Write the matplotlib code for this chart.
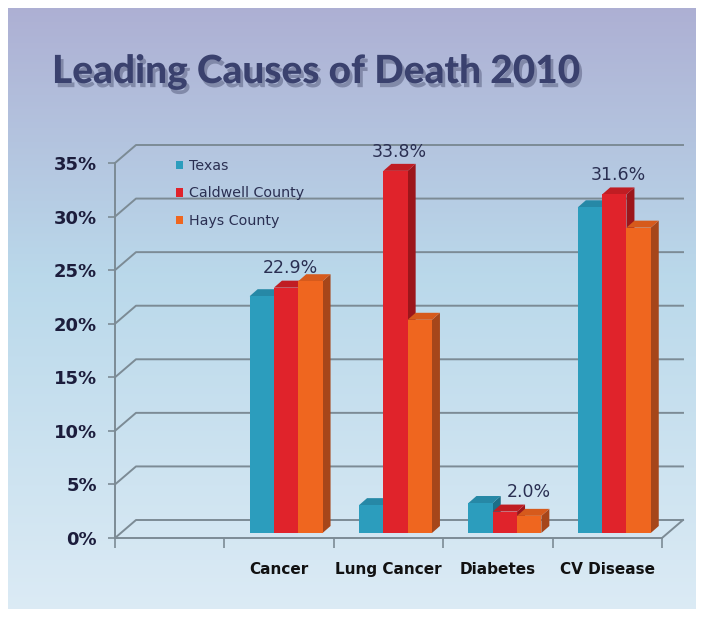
import numpy as np
import matplotlib.pyplot as plt
from matplotlib.patches import Rectangle, Polygon, Patch
import matplotlib.patheffects as pe

# ─────── Data ───────
categories = ["", "Cancer", "Lung Cancer", "Diabetes", "CV Disease"]
series_names = ["Texas", "Caldwell County", "Hays County"]
texas = [np.nan, 22.1, 2.6, 2.8, 30.4]
caldwell = [np.nan, 22.9, 33.8, 2.0, 31.6]
hays = [np.nan, 23.5, 19.9, 1.6, 28.5]
y_ticks = [0, 5, 10, 15, 20, 25, 30, 35]
labelled = "Caldwell County"

# ─────── Style ───────
W, H = 704, 617
front_cols = ["#2c9dbd", "#e0232b", "#ef661f"]
side_cols = ["#1d6f88", "#9c161b", "#a6461a"]
top_cols = ["#2688a6", "#c01d23", "#d65a1c"]
grid_col = "#7c8b95"
text_dark = "#1c1d3c"

fig = plt.figure(figsize=(W / 100, H / 100), dpi=100)

# background gradient inside a white border
bg = fig.add_axes([8 / W, 8 / H, 1 - 16 / W, 1 - 16 / H])
top_rgb = np.array([0.68, 0.69, 0.83])
mid_rgb = np.array([0.73, 0.85, 0.92])
bot_rgb = np.array([0.86, 0.92, 0.96])
t = np.linspace(0, 1, 256)[:, None]
grad = np.where(t < 0.45,
                top_rgb + (mid_rgb - top_rgb) * (t / 0.45),
                mid_rgb + (bot_rgb - mid_rgb) * ((t - 0.45) / 0.55))
bg.imshow(grad[:, None, :].repeat(2, axis=1), aspect="auto", extent=[0, 1, 0, 1])
bg.set_axis_off()

title = fig.text(52 / W, 1 - 83 / H, "Leading Causes of Death 2010",
                 fontsize=28, fontweight="black", color="#3a416e",
                 family=["Lato", "DejaVu Sans"], va="baseline",
                 path_effects=[pe.SimplePatchShadow(offset=(2, -3), shadow_rgbFace="#2a2f50",
                                                    alpha=0.35),
                               pe.Normal()])
# shrink the title so it spans the same width as the header band
fig.canvas.draw()
tw = title.get_window_extent().width
if tw > 528:
    title.set_fontsize(28 * 528 / tw)

# ─────── Plot area (front plane) ───────
x0_px, y0_px, x1_px, y1_px = 115, 538, 662, 163
ax = fig.add_axes([x0_px / W, 1 - y0_px / H, (x1_px - x0_px) / W, (y0_px - y1_px) / H])
ax.set_xlim(0, len(categories))
ax.set_ylim(0, 35)
ax.patch.set_alpha(0)

ux = (x1_px - x0_px) / len(categories)   # px per category
uy = (y0_px - y1_px) / 35.0              # px per percent

# wall depth and bar placement, in data units
wdx, wdy = 21 / ux, 18 / uy
fdx, fdy = 7 / ux, 5 / uy
bdx, bdy = 8 / ux, 7 / uy
bw = 24.3 / ux

# back wall grid lines
n = len(categories)
for v in y_ticks:
    ax.plot([0, wdx, n + wdx], [v, v + wdy, v + wdy], color=grid_col, lw=1.4,
            clip_on=False, zorder=1)
ax.plot([n, n + wdx], [0, wdy], color=grid_col, lw=1.4, clip_on=False, zorder=1)

# bars with a pseudo 3D depth
for si, vals in enumerate([texas, caldwell, hays]):
    for ci, v in enumerate(vals):
        if np.isnan(v):
            continue
        left = ci + 0.5 - 1.5 * bw + si * bw + fdx
        base = fdy
        z = 3 + ci * 0.1 + si * 0.01
        ax.add_patch(Polygon([(left + bw, base), (left + bw + bdx, base + bdy),
                              (left + bw + bdx, base + v + bdy), (left + bw, base + v)],
                             closed=True, facecolor=side_cols[si], edgecolor="none",
                             zorder=z, clip_on=False))
        ax.add_patch(Polygon([(left, base + v), (left + bdx, base + v + bdy),
                              (left + bw + bdx, base + v + bdy), (left + bw, base + v)],
                             closed=True, facecolor=top_cols[si], edgecolor="none",
                             zorder=z, clip_on=False))
        ax.add_patch(Rectangle((left, base), bw, v, facecolor=front_cols[si],
                               edgecolor="none", zorder=z + 0.001, clip_on=False))
        if series_names[si] == labelled:
            nudge = 20 / ux if v < 5 else 0
            ax.text(left + bw / 2 + bdx / 2 + nudge, base + v + bdy + 0.3, f"{v:.1f}%",
                    ha="center", va="bottom", fontsize=12.5, color="#2a2f52", zorder=10,
                    family=["DejaVu Sans"])

# axes lines and ticks
for side in ["top", "right"]:
    ax.spines[side].set_visible(False)
for side in ["left", "bottom"]:
    ax.spines[side].set_color(grid_col)
    ax.spines[side].set_linewidth(1.4)

ax.set_yticks(y_ticks)
ax.set_yticklabels([f"{v}%" for v in y_ticks])
ax.tick_params(axis="y", length=5, width=1.2, color=grid_col, pad=8,
               labelsize=13, labelcolor=text_dark)
for lbl in ax.get_yticklabels():
    lbl.set_fontweight("bold")

ax.set_xticks(np.arange(n + 1))
ax.set_xticklabels([])
ax.tick_params(axis="x", which="major", length=7, width=1.2, color=grid_col)
ax.set_xticks(np.arange(n) + 0.5, minor=True)
ax.set_xticklabels(categories, minor=True)
ax.tick_params(axis="x", which="minor", length=0, pad=17, labelsize=11, labelcolor="#111")
for lbl in ax.get_xticklabels(minor=True):
    lbl.set_fontweight("bold")

handles = [Patch(facecolor=c, edgecolor="none") for c in front_cols]
leg = ax.legend(handles, series_names, loc="upper left",
                bbox_to_anchor=(163 / W, 1 - 146 / H), bbox_transform=fig.transFigure,
                frameon=False, handlelength=0.5, handleheight=0.55, handletextpad=0.45,
                labelspacing=0.95, fontsize=10.3, labelcolor="#2a2f52")

fig.savefig("out.png", dpi=100)
